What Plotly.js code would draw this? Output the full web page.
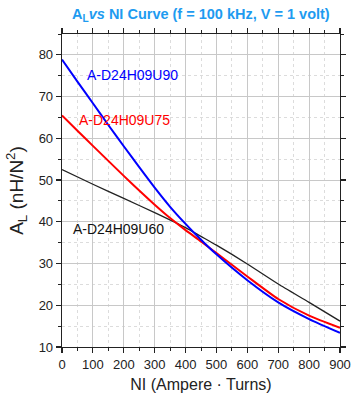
<!DOCTYPE html>
<html>
<head>
<meta charset="utf-8">
<script src="https://cdn.plot.ly/plotly-3.0.1.min.js"></script>
<style>html,body{margin:0;padding:0;background:#fff;}#chart{width:360px;height:398px;}</style>
</head>
<body>
<div id="chart"></div>
<script>
// NI (Ampere-Turns)
const niU90 = [0, 50, 100, 150, 200, 250, 300, 350, 400, 450, 500, 600, 700, 800, 900];
const alU90 = [78.9, 73.6, 68.4, 63.2, 58.1, 53.1, 48.2, 43.6, 39.5, 35.7, 32.2, 26.0, 20.7, 16.7, 13.4];

const niU75 = [0, 50, 100, 150, 200, 250, 300, 350, 400, 450, 500, 600, 700, 800, 900];
const alU75 = [65.5, 61.8, 58.2, 54.6, 51.0, 47.5, 44.1, 40.9, 38.0, 35.3, 32.5, 26.9, 21.5, 17.5, 14.6];

const niU60 = [0, 100, 200, 300, 400, 450, 500, 600, 700, 800, 900];
const alU60 = [52.5, 49.0, 45.6, 42.2, 38.6, 36.5, 34.4, 29.9, 25.1, 20.7, 16.2];

const seriesNames = ['A-D24H09U90', 'A-D24H09U75', 'A-D24H09U60'];
const seriesColors = ['#0000ff', '#ff0000', '#222222'];
const labelX = [227, 203, 184];
const labelY = [75.2, 64.4, 38.2];

const traces = [
  {x: niU90, y: alU90, mode: 'lines', line: {color: seriesColors[0], width: 2, shape: 'spline', smoothing: 0.6}, name: seriesNames[0]},
  {x: niU75, y: alU75, mode: 'lines', line: {color: seriesColors[1], width: 2, shape: 'spline', smoothing: 0.6}, name: seriesNames[1]},
  {x: niU60, y: alU60, mode: 'lines', line: {color: seriesColors[2], width: 1.3, shape: 'spline', smoothing: 0.6}, name: seriesNames[2]}
];
// draw black first so red/blue on top
const data = [traces[2], traces[1], traces[0]];

const annotations = seriesNames.map((n, i) => ({
  x: labelX[i], y: labelY[i], xref: 'x', yref: 'y', text: n, showarrow: false,
  font: {family: 'Liberation Sans, Arial, sans-serif', size: 14, color: seriesColors[i] === '#222222' ? '#111111' : seriesColors[i]}
}));

const axisCommon = {
  showline: true, linecolor: '#222', linewidth: 1.3, mirror: 'allticks',
  ticks: 'outside', ticklen: 5, tickwidth: 1.2, tickcolor: '#222',
  showgrid: true, gridcolor: '#c8c8c8', gridwidth: 1, zeroline: false,
  tickfont: {family: 'Liberation Sans, Arial, sans-serif', size: 13, color: '#222'}
};

const layout = {
  width: 360, height: 398,
  margin: {l: 62, r: 20, t: 34, b: 51},
  paper_bgcolor: '#fff', plot_bgcolor: '#fff',
  showlegend: false,
  title: {
    text: 'A<sub>L</sub><i>vs</i> NI Curve (f = 100 kHz, V = 1 volt)',
    font: {family: 'Liberation Sans, Arial, sans-serif', size: 14.5, color: '#1e9bf0', weight: 'bold'},
    x: 0.558, xanchor: 'center', y: 0.965, yanchor: 'middle'
  },
  xaxis: Object.assign({}, axisCommon, {
    range: [0, 900], dtick: 100, tick0: 0,
    minor: {dtick: 50, ticklen: 3, tickwidth: 1, tickcolor: '#222', showgrid: true, gridcolor: '#dcdcdc', griddash: 'dot', gridwidth: 1},
    title: {text: 'NI (Ampere · Turns)', standoff: 8, font: {family: 'Liberation Sans, Arial, sans-serif', size: 16, color: '#222'}}
  }),
  yaxis: Object.assign({}, axisCommon, {
    range: [10, 85], dtick: 10, tick0: 0,
    minor: {dtick: 5, ticklen: 3, tickwidth: 1, tickcolor: '#222', showgrid: true, gridcolor: '#dcdcdc', griddash: 'dot', gridwidth: 1},
    title: {text: 'A<sub>L</sub> (nH/N<sup>2</sup>)', standoff: 10, font: {family: 'Liberation Sans, Arial, sans-serif', size: 19, color: '#222'}}
  }),
  annotations: annotations
};

Plotly.newPlot('chart', data, layout, {displayModeBar: false, staticPlot: true});
</script>
</body>
</html>
